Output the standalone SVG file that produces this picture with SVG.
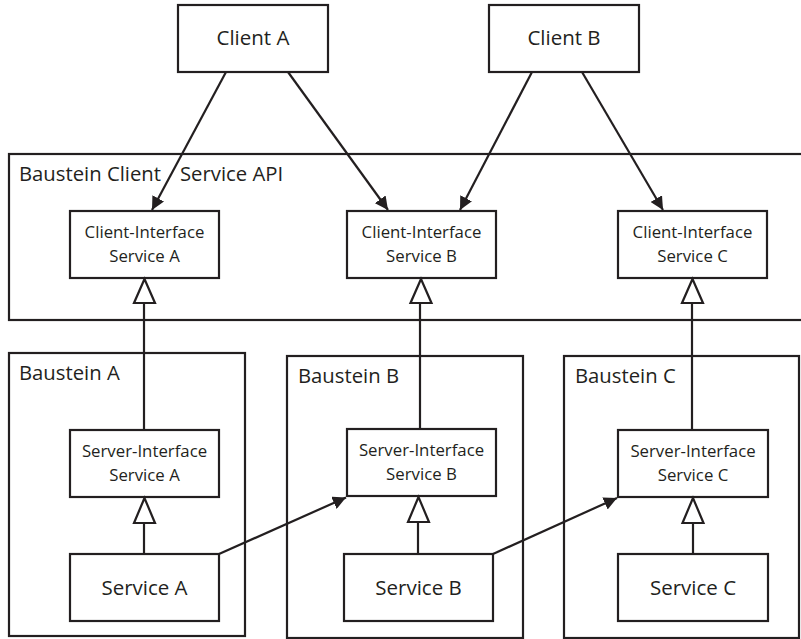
<svg xmlns="http://www.w3.org/2000/svg" width="801" height="639" viewBox="0 0 801 639">
<defs>
<style>
.box{fill:#fff;stroke:#231f20;stroke-width:2.2}
.cont{fill:none;stroke:#231f20;stroke-width:2.2}
.ln{stroke:#231f20;stroke-width:2.2;fill:none}
.t{font-family:"Open Sans","Noto Sans",sans-serif;fill:#231f20;text-anchor:middle}
.s{font-size:16.8px}
.m{font-size:20.5px}
.h{font-family:"Open Sans","Noto Sans",sans-serif;fill:#231f20;font-size:20.3px}
.tri{fill:#fff;stroke:#231f20;stroke-width:2.2}
</style>
<marker id="ah" viewBox="0 0 10 10" refX="10" refY="5" markerWidth="6" markerHeight="6" orient="auto" markerUnits="strokeWidth">
<path d="M0,0 L10,5 L0,10 z" fill="#231f20"/>
</marker>
</defs>
<rect width="801" height="639" fill="#fff"/>

<g id="api">
<rect class="cont" x="9" y="154" width="805" height="166"/>
<text class="h" x="19" y="181">Baustein Client<tspan x="180">Service API</tspan></text>
</g>
<g id="bausteinA">
<rect class="cont" x="9" y="353" width="236" height="283"/>
<text class="h" x="19" y="380">Baustein A</text>
</g>
<g id="bausteinB">
<rect class="cont" x="287" y="356" width="236" height="282"/>
<text class="h" x="298" y="383">Baustein B</text>
</g>
<g id="bausteinC">
<rect class="cont" x="564" y="356" width="235" height="282"/>
<text class="h" x="575" y="383">Baustein C</text>
</g>

<g id="clientA">
<rect class="box" x="178" y="5" width="150" height="67"/>
<text class="t m" x="253" y="45">Client A</text>
</g>
<g id="clientB">
<rect class="box" x="489" y="5" width="150" height="67"/>
<text class="t m" x="564" y="45">Client B</text>
</g>

<g id="ciA">
<rect class="box" x="70" y="211" width="149" height="67"/>
<text class="t s" x="144.5" y="238">Client-Interface</text>
<text class="t s" x="144.5" y="262">Service A</text>
</g>
<g id="ciB">
<rect class="box" x="347" y="211" width="149" height="67"/>
<text class="t s" x="421.5" y="238">Client-Interface</text>
<text class="t s" x="421.5" y="262">Service B</text>
</g>
<g id="ciC">
<rect class="box" x="618" y="211" width="149" height="67"/>
<text class="t s" x="692.5" y="238">Client-Interface</text>
<text class="t s" x="692.5" y="262">Service C</text>
</g>

<g id="siA">
<rect class="box" x="70" y="430" width="149" height="67"/>
<text class="t s" x="144.5" y="457">Server-Interface</text>
<text class="t s" x="144.5" y="481">Service A</text>
</g>
<g id="siB">
<rect class="box" x="347" y="429" width="149" height="67"/>
<text class="t s" x="421.5" y="456">Server-Interface</text>
<text class="t s" x="421.5" y="480">Service B</text>
</g>
<g id="siC">
<rect class="box" x="618" y="430" width="150" height="67"/>
<text class="t s" x="693" y="457">Server-Interface</text>
<text class="t s" x="693" y="481">Service C</text>
</g>

<g id="svcA">
<rect class="box" x="70" y="554" width="149" height="67"/>
<text class="t m" x="144.5" y="595">Service A</text>
</g>
<g id="svcB">
<rect class="box" x="344" y="554" width="149" height="67"/>
<text class="t m" x="418.5" y="595">Service B</text>
</g>
<g id="svcC">
<rect class="box" x="618" y="554" width="150" height="67"/>
<text class="t m" x="693" y="595">Service C</text>
</g>

<g id="connectors">
<line class="ln" x1="226" y1="72" x2="152" y2="210" marker-end="url(#ah)"/>
<line class="ln" x1="288" y1="72" x2="388" y2="210" marker-end="url(#ah)"/>
<line class="ln" x1="532" y1="72" x2="460" y2="210" marker-end="url(#ah)"/>
<line class="ln" x1="582" y1="72" x2="663" y2="210" marker-end="url(#ah)"/>

<line class="ln" x1="144" y1="303" x2="144" y2="430"/>
<polygon class="tri" points="144.5,279 134,303 155,303"/>
<line class="ln" x1="420" y1="303" x2="420" y2="429"/>
<polygon class="tri" points="421,279 410.5,303 431.5,303"/>
<line class="ln" x1="692" y1="303" x2="692" y2="430"/>
<polygon class="tri" points="692.5,279 682,303 703,303"/>

<line class="ln" x1="144" y1="523" x2="144" y2="554"/>
<polygon class="tri" points="144.5,498 134,523 155,523"/>
<line class="ln" x1="418" y1="522" x2="418" y2="554"/>
<polygon class="tri" points="418.5,497 408,522 429,522"/>
<line class="ln" x1="693" y1="523" x2="693" y2="554"/>
<polygon class="tri" points="693,498 682.5,523 703.5,523"/>

<line class="ln" x1="219" y1="554" x2="346" y2="497.5" marker-end="url(#ah)"/>
<line class="ln" x1="493" y1="554" x2="617" y2="498" marker-end="url(#ah)"/>
</g>
</svg>
